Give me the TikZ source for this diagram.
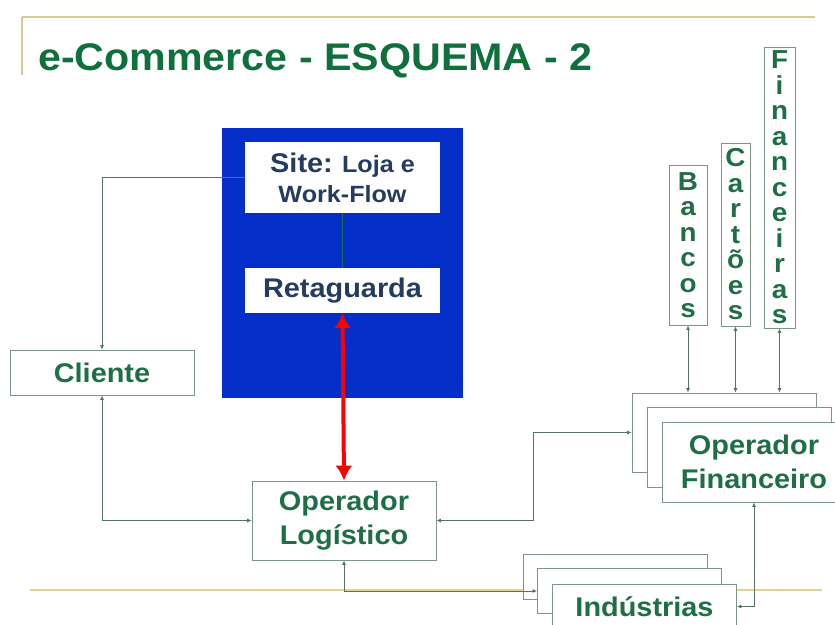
\documentclass[tikz,border=0pt]{standalone}
\usepackage{fontspec}
\setmainfont{Liberation Sans}[FakeStretch=1.07]
\usetikzlibrary{arrows.meta}
\definecolor{titlegreen}{RGB}{14,112,58}
\definecolor{txtgreen}{RGB}{30,110,70}
\definecolor{boxline}{RGB}{125,150,135}
\definecolor{connline}{RGB}{85,115,100}
\definecolor{siteblue}{RGB}{4,46,200}
\definecolor{sitetext}{RGB}{35,60,95}
\definecolor{rulertan}{RGB}{215,200,150}
\definecolor{rulerylw}{RGB}{225,215,140}

\begin{document}
\begin{tikzpicture}[x=1pt,y=-1pt,
  box/.style={draw=boxline,fill=white,line width=0.8pt,inner sep=0pt,
    minimum width=184pt,text=txtgreen,align=center,
    font=\bfseries\fontsize{27}{34}\selectfont},
  vbox/.style={draw=boxline,fill=white,line width=0.8pt,inner sep=0pt,
    text=txtgreen,align=center,font=\bfseries\fontsize{26}{25.5}\selectfont},
  wbox/.style={fill=white,inner sep=0pt,minimum width=195pt,text=sitetext,
    align=center},
  conn/.style={draw=connline,line width=0.8pt,
    {Latex[length=4.5pt,width=4pt]}-{Latex[length=4.5pt,width=4pt]}}]
\useasboundingbox (0,0) rectangle (835,624);
\clip (0,0) rectangle (835,624);

% page rulers
\draw[rulertan,line width=2.5pt] (22,17) -- (815,17);
\draw[rulertan,line width=2pt] (22,17) -- (22,75);
\draw[rulerylw,line width=2.5pt] (30,590) -- (822,590);

\node[anchor=base west,text=titlegreen,inner sep=0pt,
  font=\bfseries\fontsize{38.5}{40}\selectfont] (title) at (38,70)
  {e-Commerce - ESQUEMA - 2};

% loja virtual
\node[fill=siteblue,minimum width=241pt,minimum height=270pt] (blue) at (342.5,263) {};
\node[wbox,minimum height=71pt,font=\bfseries\fontsize{23.5}{30}\selectfont] (site) at (342.5,177.5)
  {{\fontsize{27}{30}\selectfont Site:} Loja e\\Work-Flow};
\node[wbox,minimum height=45pt,font=\bfseries\fontsize{27}{30}\selectfont] (ret) at (342.5,290.5) {Retaguarda};

\node[box,minimum height=45pt] (cli) at (102,372.5) {Cliente};
\node[box,minimum height=79pt] (oplog) at (344,520.5) {Operador\\Log\'istico};

% operador financeiro
\node[box,minimum height=79pt] (finA) at (724,432.5) {};
\node[box,minimum height=80pt] (finB) at (739,447) {};
\node[box,minimum height=80pt] (finC) at (754,462) {Operador\\Financeiro};

% industrias
\node[box,minimum height=45pt] (indA) at (615,576.5) {};
\node[box,minimum height=45pt] (indB) at (629.5,591) {};
\node[box,minimum height=45pt] (indC) at (644.5,606.5) {Ind\'ustrias};

\node[vbox,minimum width=38pt,minimum height=160pt] (banc) at (688,245) {B\\a\\n\\c\\o\\s};
\node[vbox,minimum width=29pt,minimum height=183pt] (cart) at (735.5,234.5) {C\\a\\r\\t\\\~o\\e\\s};
\node[vbox,minimum width=31pt,minimum height=281pt] (fina) at (779.5,187.5) {F\\i\\n\\a\\n\\c\\e\\i\\r\\a\\s};

% ligacoes
\draw[connline,line width=0.8pt,-{Latex[length=4.5pt,width=4pt]}] (site.west) -| (cli.north);
\draw[txtgreen,line width=1.5pt] (site.south) -- (ret.north);
\draw[conn] (cli.south) |- (oplog.west);
\draw[red,line width=4pt,{Latex[length=15pt,width=17pt]}-{Latex[length=15pt,width=17pt]}] (ret.south) -- (oplog.north);
\draw[conn] (oplog.east) -- ++(97,0) |- (finA.west);
\draw[conn] (oplog.south) |- (indB.west);
\draw[conn] (finC.south) |- (indC.east);
\draw[conn] (banc.south) -- (banc.south |- finA.north);
\draw[conn] (cart.south) -- (cart.south |- finA.north);
\draw[conn] (fina.south) -- (fina.south |- finA.north);
\end{tikzpicture}
\end{document}
